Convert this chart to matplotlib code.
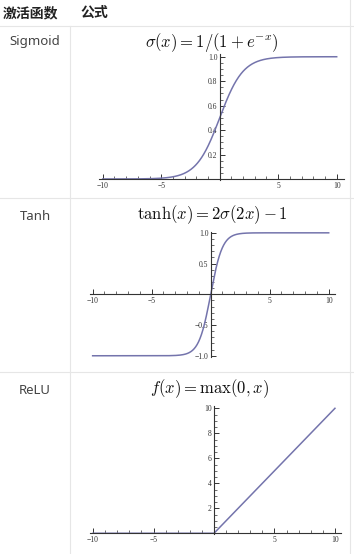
import numpy as np
import matplotlib
matplotlib.use("Agg")
import matplotlib.pyplot as plt
from matplotlib.ticker import MultipleLocator
from matplotlib.lines import Line2D

plt.rcParams['mathtext.fontset'] = 'cm'

# ---- data ----
header = ["激活函数", "公式"]
names = ["Sigmoid", "Tanh", "ReLU"]
formulas = [r"$\sigma(x) = 1/(1+e^{-x})$",
            r"$\tanh(x) = 2\sigma(2x) - 1$",
            r"$f(x) = \max(0, x)$"]
x = np.linspace(-10, 10, 801)
sig_y = 1 / (1 + np.exp(-x))
tanh_y = np.tanh(x)
relu_y = np.maximum(0, x)
x_ticks = [-10, -5, 5, 10]
x_ticklabels = ["\u221210", "\u22125", "5", "10"]
sig_yticks = [0.2, 0.4, 0.6, 0.8, 1.0]
tanh_yticks = [-1.0, -0.5, 0.5, 1.0]
relu_yticks = [2, 4, 6, 8, 10]

W, H = 354, 554
fig = plt.figure(figsize=(W / 100, H / 100), dpi=100)
fig.patch.set_facecolor("white")

def px_rect(left, top, width, height):
    return [left / W, 1 - (top + height) / H, width / W, height / H]

# ---- table lines ----
grid_col = "#e6e6e6"
def hline(y, x0=0, x1=W):
    fig.add_artist(Line2D([x0 / W, x1 / W], [1 - y / H, 1 - y / H], color=grid_col, lw=0.8))
def vline(xp, y0, y1):
    fig.add_artist(Line2D([xp / W, xp / W], [1 - y0 / H, 1 - y1 / H], color=grid_col, lw=0.8))

hline(26)
hline(198)
hline(372)
vline(70, 26, H)
vline(350, 0, H)

# ---- header / row labels ----
cjk = ['Noto Sans CJK SC', 'DejaVu Sans']
fig.text(3 / W, 1 - 13 / H, header[0], family=cjk, fontsize=10, fontweight='bold',
         color="#222222", va='center', ha='left')
fig.text(80 / W, 1 - 13 / H, header[1], family=cjk, fontsize=10, fontweight='bold',
         color="#222222", va='center', ha='left')
for name, yc in zip(names, [42, 216, 390]):
    fig.text(35 / W, 1 - yc / H, name, family=['Noto Sans', 'DejaVu Sans'], fontsize=9.5,
             color="#444444", va='center', ha='center')

# formula titles
for f, xc, yc in zip(formulas, [212, 212, 210], [42, 215, 389]):
    fig.text(xc / W, 1 - yc / H, f, fontsize=12, color="#111111", va='center', ha='center')

line_col = "#7474ac"
serif = ['Liberation Serif', 'DejaVu Serif']

def style_axes(ax, xlim, ylim, yticks, yticklabels, yminor):
    ax.set_xlim(*xlim)
    ax.set_ylim(*ylim)
    ax.patch.set_alpha(0)
    for s in ['top', 'right']:
        ax.spines[s].set_visible(False)
    ax.spines['left'].set_position(('data', 0))
    ax.spines['bottom'].set_position(('data', 0))
    for s in ['left', 'bottom']:
        ax.spines[s].set_color("#333333")
        ax.spines[s].set_linewidth(0.8)
    ax.set_xticks(x_ticks)
    ax.set_xticklabels(x_ticklabels, fontfamily=serif, fontsize=5.5)
    ax.set_yticks(yticks)
    ax.set_yticklabels(yticklabels, fontfamily=serif, fontsize=5.5)
    ax.xaxis.set_minor_locator(MultipleLocator(1))
    ax.yaxis.set_minor_locator(MultipleLocator(yminor))
    ax.tick_params(which='major', direction='in', length=3.5, width=0.7, color="#333333", pad=2)
    ax.tick_params(which='minor', direction='in', length=2, width=0.5, color="#333333")
    ax.tick_params(axis='x', which='both', labelcolor="#333333")
    ax.tick_params(axis='y', which='both', labelcolor="#333333", pad=1.5)

# Sigmoid
ax1 = fig.add_axes(px_rect(99.2, 54.3, 244.5, 125.3))
ax1.plot(x, sig_y, color=line_col, lw=1.1)
style_axes(ax1, (-10.3, 10.6), (-0.005, 1.02), sig_yticks, ["0.2", "0.4", "0.6", "0.8", "1.0"], 0.05)

# Tanh
ax2 = fig.add_axes(px_rect(89.7, 231.6, 244.9, 125.4))
ax2.plot(x, tanh_y, color=line_col, lw=1.1)
style_axes(ax2, (-10.25, 10.5), (-1.02, 1.02), tanh_yticks,
           ["\u22121.0", "\u22120.5", "0.5", "1.0"], 0.1)

# ReLU
ax3 = fig.add_axes(px_rect(90, 405.8, 251, 128.1))
ax3.plot(x, relu_y, color=line_col, lw=1.1)
style_axes(ax3, (-10.25, 10.5), (-0.05, 10.2), relu_yticks, ["2", "4", "6", "8", "10"], 0.5)

fig.savefig("out.png", dpi=100, facecolor="white")
